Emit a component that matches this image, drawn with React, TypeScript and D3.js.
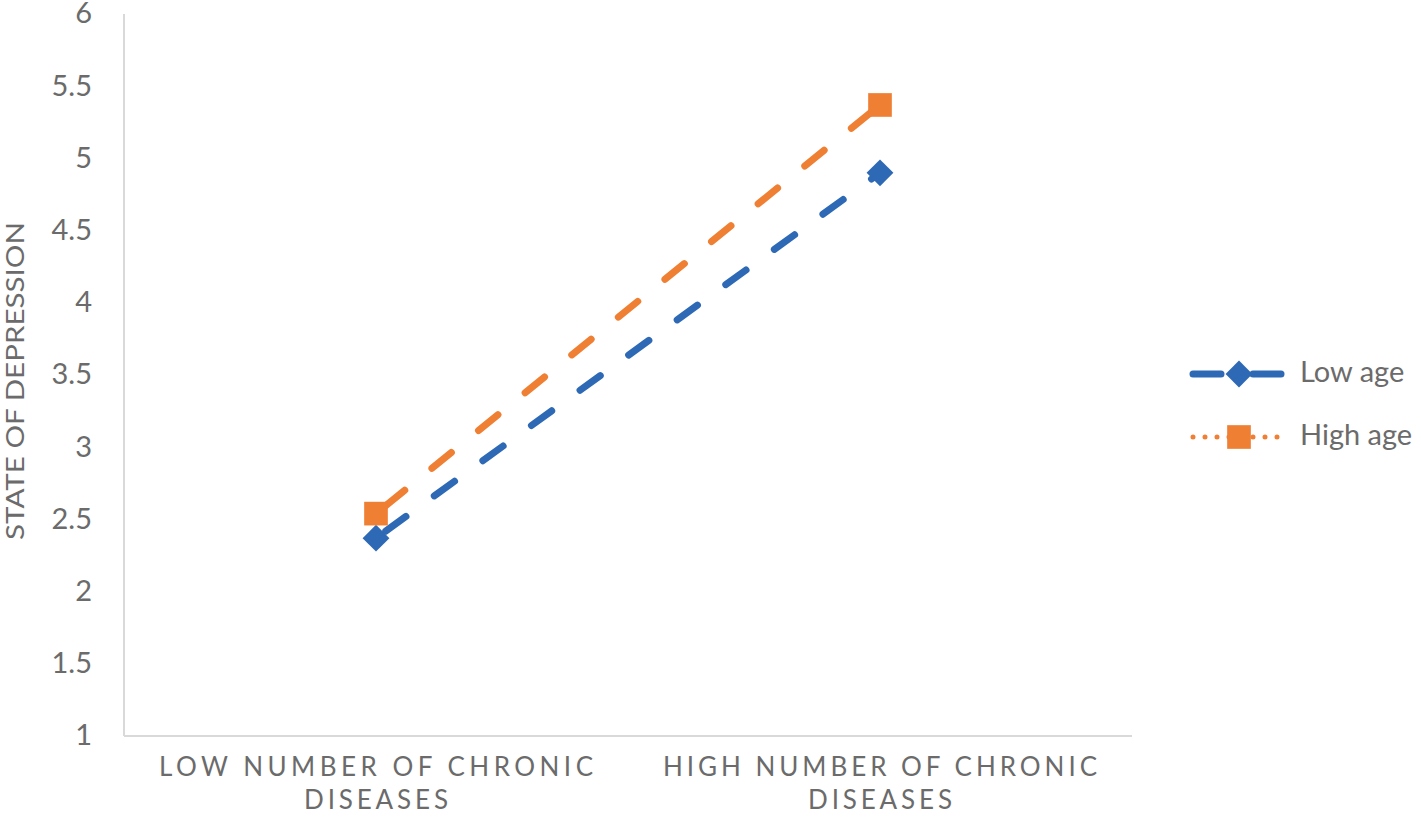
import * as d3 from 'd3'

const categories = ['LOW NUMBER OF CHRONIC|DISEASES', 'HIGH NUMBER OF CHRONIC|DISEASES']
const lowAge = [2.37, 4.9]
const highAge = [2.54, 5.37]
const yTicks = [1, 1.5, 2, 2.5, 3, 3.5, 4, 4.5, 5, 5.5, 6]

const W = 1421
const H = 821
const FONT = 'Lato, "Open Sans", sans-serif'
const TEXT = '#6b6b6b'
const BLUE = '#2e69b5'
const ORANGE = '#ef7f33'

const series = [
  { name: 'Low age', values: lowAge, color: BLUE, marker: 'diamond', legendDash: '28 32', legendWidth: 7 },
  { name: 'High age', values: highAge, color: ORANGE, marker: 'square', legendDash: '0 12', legendWidth: 5 },
]

const plot = { left: 124, right: 1132, top: 14, bottom: 736 }

export default function App() {
  const x = d3.scaleBand<string>().domain(categories).range([plot.left, plot.right])
  const y = d3.scaleLinear().domain([1, 6]).range([plot.bottom, plot.top])

  const line = d3.line<number>()
    .x((_, i) => x(categories[i])! + x.bandwidth() / 2)
    .y(d => y(d))

  const marker = (kind: string, cx: number, cy: number, color: string) =>
    kind === 'diamond' ? (
      <path
        d={d3.symbol().type(d3.symbolSquare).size(360)()!}
        transform={`translate(${cx},${cy}) rotate(45)`}
        fill={color}
      />
    ) : (
      <path d={d3.symbol().type(d3.symbolSquare).size(560)()!} transform={`translate(${cx},${cy})`} fill={color} />
    )

  return (
    <svg
      width={W}
      height={H}
      style={{ position: 'absolute', left: 0, top: 0, background: '#fff' }}
      fontFamily={FONT}
    >
      {/* axes */}
      <line x1={plot.left} x2={plot.left} y1={plot.top} y2={plot.bottom} stroke="#d9d9d9" strokeWidth={2} />
      <line x1={plot.left} x2={plot.right} y1={plot.bottom} y2={plot.bottom} stroke="#d9d9d9" strokeWidth={2} />

      {yTicks.map(t => (
        <text key={t} x={92} y={y(t) + 2} textAnchor="end" dominantBaseline="middle" fontSize={29} fill={TEXT}>
          {t}
        </text>
      ))}

      <text
        transform={`translate(24,${(plot.top + plot.bottom) / 2 + 6}) rotate(-90)`}
        textAnchor="middle"
        fontSize={25}
        fill={TEXT}
        textLength={318}
        lengthAdjust="spacingAndGlyphs"
      >
        STATE OF DEPRESSION
      </text>

      {categories.map(c => {
        const [l1, l2] = c.split('|')
        const cx = x(c)! + x.bandwidth() / 2
        return (
          <g key={c} fontSize={26} fill={TEXT} textAnchor="middle">
            <text x={cx} y={776} textLength={434} lengthAdjust="spacing">{l1}</text>
            <text x={cx} y={809} textLength={144} lengthAdjust="spacing">{l2}</text>
          </g>
        )
      })}

      {/* series */}
      {series.map(s => (
        <g key={s.name}>
          <path
            d={line(s.values)!}
            fill="none"
            stroke={s.color}
            strokeWidth={7}
            strokeLinecap="round"
            strokeDasharray="25 35"
            strokeDashoffset={-12}
          />
          {s.values.map((v, i) => (
            <g key={i}>{marker(s.marker, x(categories[i])! + x.bandwidth() / 2, y(v), s.color)}</g>
          ))}
        </g>
      ))}

      {/* legend */}
      {series.map((s, i) => {
        const ly = 374 + i * 63
        return (
          <g key={s.name}>
            <line
              x1={1193}
              x2={1284}
              y1={ly}
              y2={ly}
              stroke={s.color}
              strokeWidth={s.legendWidth}
              strokeLinecap="round"
              strokeDasharray={s.legendDash}
            />
            {marker(s.marker, 1239, ly, s.color)}
            <text x={1300} y={ly + 1} dominantBaseline="middle" fontSize={29} fill={TEXT}>
              {s.name}
            </text>
          </g>
        )
      })}
    </svg>
  )
}
